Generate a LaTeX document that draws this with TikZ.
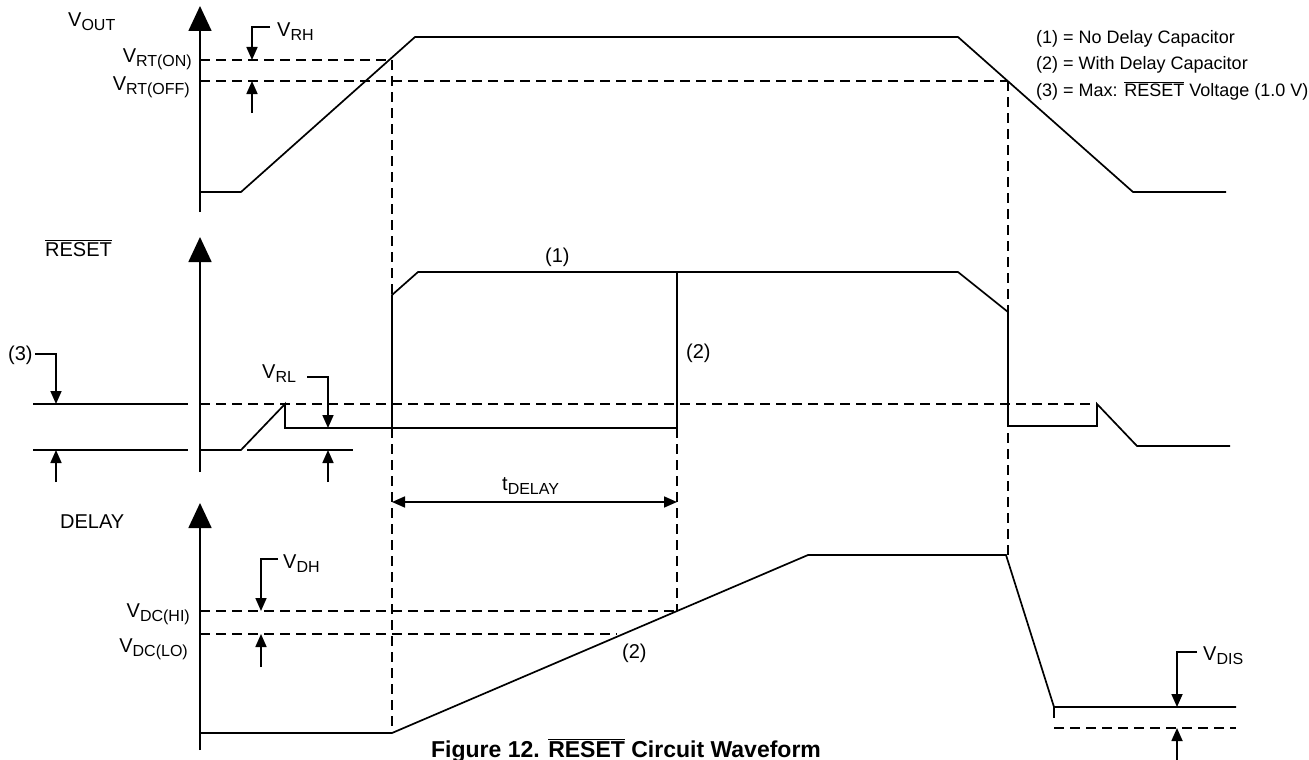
\documentclass[tikz,border=0pt]{standalone}
\usepackage{fontspec}
\setmainfont{Liberation Sans}
\usetikzlibrary{arrows.meta}
\newcommand{\Vsub}[2]{#1\raisebox{-4pt}{\fontsize{16}{16}\selectfont #2}}
\newcommand{\ovl}[1]{$\overline{\hbox{#1}}$}
\begin{document}
\begin{tikzpicture}[x=1pt,y=-1pt,
  wave/.style={line width=1.7pt, line join=miter},
  dashline/.style={line width=1.7pt, dash pattern=on 10pt off 6pt},
  axisarrow/.style={line width=1.7pt, -{Triangle[length=25pt,width=23pt]}},
  marker/.style={line width=1.7pt, -{Triangle[length=13pt,width=11pt]}},
  dimarrow/.style={line width=1.7pt, {Triangle[length=13pt,width=11pt]}-{Triangle[length=13pt,width=11pt]}},
  lbl/.style={inner sep=0pt, font=\fontsize{20}{24}\selectfont},
  leg/.style={inner sep=0pt, anchor=base west, font=\fontsize{18}{22}\selectfont},
  capt/.style={inner sep=0pt, anchor=base, font=\bfseries\fontsize{23}{28}\selectfont}]
\useasboundingbox (0,0) rectangle (1309,760);

% ---------------- dashed guide lines ----------------
\draw[dashline] (200,60) -- (392,60);
\draw[dashline] (200,81) -- (1008,81);
\draw[dashline] (392,60) -- (392,733);
\draw[dashline] (1008,81) -- (1008,555);
\draw[dashline] (200,404) -- (1097,404);
\draw[dashline] (677,428) -- (677,611);
\draw[dashline] (200,611) -- (677,611);
\draw[dashline] (200,634) -- (617,634);
\draw[dashline] (1054,728) -- (1236,728);

% ---------------- axes ----------------
\draw[axisarrow] (200,212) -- (200,6);
\draw[axisarrow] (200,472) -- (200,237);
\draw[axisarrow] (200,750) -- (200,503);

% ---------------- VOUT waveform ----------------
\draw[wave] (200,192) -- (241,192) -- (415,37) -- (958,37) -- (1133,192) -- (1226,192);

% ---------------- RESET waveform ----------------
\draw[wave] (33,404) -- (188,404);
\draw[wave] (33,450) -- (188,450);
\draw[wave] (200,450) -- (241,450) -- (285,404) -- (285,428) -- (677,428) -- (677,272);
\draw[wave] (247,450) -- (353,450);
\draw[wave] (392,428) -- (392,295) -- (418,272) -- (958,272) -- (1008,312) -- (1008,426)
  -- (1097,426) -- (1097,404) -- (1137,446) -- (1230,446);

% ---------------- DELAY waveform ----------------
\draw[wave] (200,733) -- (392,733) -- (808,555) -- (1006,555) -- (1054,707) -- (1236,707);
\draw[wave] (1054,707) -- (1054,718);

% ---------------- markers ----------------
\draw[marker] (270,27) -- (252,27) -- (252,60);
\draw[marker] (252,113) -- (252,81);
\draw[marker] (35,354) -- (56,354) -- (56,404);
\draw[marker] (56,482) -- (56,450);
\draw[marker] (307,377) -- (328,377) -- (328,428);
\draw[marker] (328,482) -- (328,450);
\draw[dimarrow] (392,502) -- (677,502);
\draw[marker] (278,559) -- (261,559) -- (261,611);
\draw[marker] (261,667) -- (261,634);
\draw[marker] (1197,652) -- (1177,652) -- (1177,707);
\draw[marker] (1177,760) -- (1177,728);

% ---------------- labels ----------------
\node[lbl, anchor=base west] (vout) at (68,27) {\Vsub{V}{OUT}};
\node[lbl, anchor=base west] (vrh) at (277,37) {\Vsub{V}{RH}};
\node[lbl, anchor=base east] (vrton) at (192,63) {\Vsub{V}{RT(ON)}};
\node[lbl, anchor=base east] (vrtoff) at (190,91) {\Vsub{V}{RT(OFF)}};
\node[lbl, anchor=base west] (reset) at (45,256) {\ovl{RESET}};
\node[lbl, anchor=base west] (l3) at (8,360) {(3)};
\node[lbl, anchor=base west] (vrl) at (262,378) {\Vsub{V}{RL}};
\node[lbl, anchor=base west] (l1) at (545,262) {(1)};
\node[lbl, anchor=base west] (l2a) at (686,358) {(2)};
\node[lbl, anchor=base west] (tdel) at (502,490) {\Vsub{t}{DELAY}};
\node[lbl, anchor=base west] (delay) at (60,528) {DELAY};
\node[lbl, anchor=base west] (vdh) at (283,568) {\Vsub{V}{DH}};
\node[lbl, anchor=base east] (vdchi) at (190,617) {\Vsub{V}{DC(HI)}};
\node[lbl, anchor=base east] (vdclo) at (188,652) {\Vsub{V}{DC(LO)}};
\node[lbl, anchor=base west] (l2b) at (622,658) {(2)};
\node[lbl, anchor=base west] (vdis) at (1203,660) {\Vsub{V}{DIS}};

\node[leg] (leg1) at (1036,44) {(1) = No Delay Capacitor};
\node[leg] (leg2) at (1036,70) {(2) = With Delay Capacitor};
\node[leg] (leg3) at (1036,96) {(3) = Max: \ovl{RESET} Voltage (1.0 V)};

\node[capt] (caption) at (626,757) {Figure 12. \ovl{RESET} Circuit Waveform};
\end{tikzpicture}
\end{document}
